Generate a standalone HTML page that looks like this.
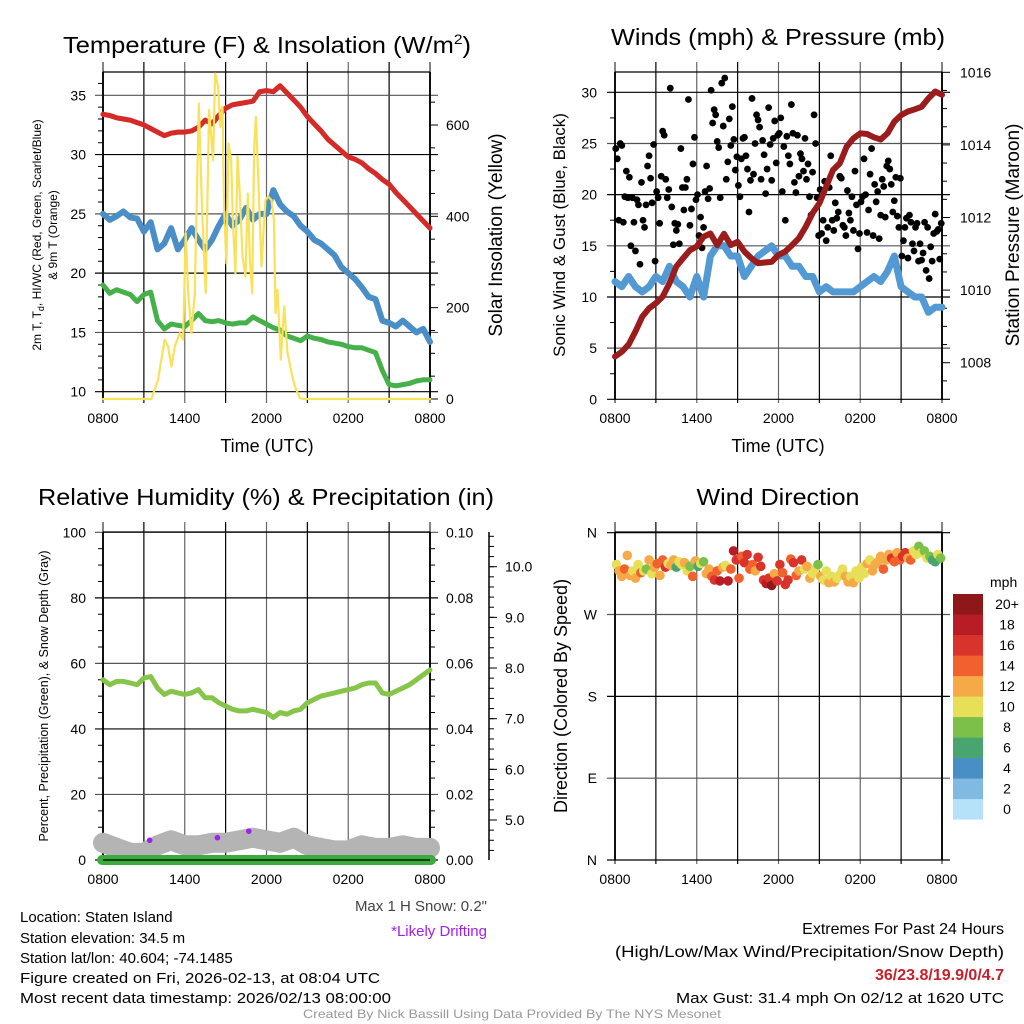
<!DOCTYPE html>
<html><head><meta charset="utf-8"><style>
html,body{margin:0;padding:0;background:#fff;}
svg{display:block;font-family:"Liberation Sans",sans-serif;}
</style></head><body>
<svg id="fig" width="1024" height="1024" viewBox="0 0 1024 1024" xmlns="http://www.w3.org/2000/svg">
<rect width="1024" height="1024" fill="#fff"/>
<text x="267" y="53" font-size="23" text-anchor="middle" textLength="408" lengthAdjust="spacingAndGlyphs">Temperature (F) &amp; Insolation (W/m<tspan dy="-9" font-size="14">2</tspan><tspan dy="9">)</tspan></text>
<text x="778" y="45" font-size="23" text-anchor="middle" textLength="334" lengthAdjust="spacingAndGlyphs">Winds (mph) &amp; Pressure (mb)</text>
<text x="266" y="505" font-size="23" text-anchor="middle" textLength="456" lengthAdjust="spacingAndGlyphs">Relative Humidity (%) &amp; Precipitation (in)</text>
<text x="778" y="505" font-size="23" text-anchor="middle" textLength="163" lengthAdjust="spacingAndGlyphs">Wind Direction</text>
<g id="layer"></g>
<text x="20" y="922" font-size="15">Location: Staten Island</text>
<text x="20" y="943" font-size="15">Station elevation: 34.5 m</text>
<text x="20" y="963" font-size="15">Station lat/lon: 40.604; -74.1485</text>
<text x="20" y="983" font-size="15" textLength="360" lengthAdjust="spacingAndGlyphs">Figure created on Fri, 2026-02-13, at 08:04 UTC</text>
<text x="20" y="1003" font-size="15" textLength="371" lengthAdjust="spacingAndGlyphs">Most recent data timestamp: 2026/02/13 08:00:00</text>
<text x="487" y="911" font-size="15" text-anchor="end" fill="#444">Max 1 H Snow: 0.2"</text>
<text x="487" y="936" font-size="15" text-anchor="end" fill="#a020f0">*Likely Drifting</text>
<text x="1004" y="934" font-size="16" text-anchor="end">Extremes For Past 24 Hours</text>
<text x="1004" y="957" font-size="16" text-anchor="end" textLength="389" lengthAdjust="spacingAndGlyphs">(High/Low/Max Wind/Precipitation/Snow Depth)</text>
<text x="1004" y="980" font-size="16" font-weight="bold" text-anchor="end" fill="#c8202a">36/23.8/19.9/0/4.7</text>
<text x="1004" y="1003" font-size="15" text-anchor="end" textLength="328" lengthAdjust="spacingAndGlyphs">Max Gust: 31.4 mph On 02/12 at 1620 UTC</text>
<text x="512" y="1018" font-size="12" text-anchor="middle" fill="#999" textLength="418" lengthAdjust="spacingAndGlyphs">Created By Nick Bassill Using Data Provided By The NYS Mesonet</text>
</svg>
<script>
// ---- data (half-hourly from 0800 UTC, 49 points) ----
const timeLabels = ["0800","1400","2000","0200","0800"];
const tempVals = [33.4,33.3,33.1,33.0,32.9,32.7,32.5,32.2,31.9,31.6,31.8,31.9,31.9,32.0,32.3,32.9,32.6,33.3,33.9,34.2,34.3,34.4,34.5,35.3,35.4,35.3,35.8,35.2,34.6,34.0,33.2,32.6,32.0,31.3,30.8,30.3,29.8,29.6,29.3,28.8,28.4,27.9,27.5,26.8,26.2,25.6,25.0,24.4,23.8];
const chillVals = [25,24.5,24.8,25.2,24.7,24.6,23.5,24.3,22.0,22.5,23.8,22.0,22.8,23.8,22.8,22.0,22.8,24.0,25.0,24.0,24.5,25.5,24.5,25.0,25.0,27.0,25.8,25.2,24.8,24.0,23.5,22.8,22.5,22.0,21.5,20.5,20.0,19.5,18.8,18.0,17.8,16.0,15.8,15.5,16.0,15.5,15.0,15.3,14.2];
const dewVals = [19.0,18.3,18.6,18.4,18.2,17.6,18.2,18.4,16.0,15.3,15.7,15.6,15.5,16.0,16.6,16.0,15.9,16.0,15.8,15.7,15.8,15.8,16.3,16.0,15.7,15.4,15.2,14.7,14.5,14.3,14.7,14.5,14.4,14.2,14.1,14.0,13.8,13.7,13.7,13.5,13.3,11.8,10.6,10.5,10.6,10.7,10.9,11.0,11.0];
const solarHours = [0,3.55,4.04,4.53,4.78,5.02,5.27,5.63,5.88,6.07,6.25,6.49,6.74,7.03,7.27,7.54,7.79,8.08,8.23,8.45,8.62,8.77,8.89,9.06,9.21,9.40,9.55,9.72,9.87,10.04,10.24,10.46,10.63,10.78,10.95,11.09,11.22,11.39,11.63,11.80,11.93,12.12,12.37,12.54,12.66,12.81,13.05,13.30,13.54,13.84,14.08,14.45,14.69,24];
const solarVals = [0,0,42,130,115,71,115,144,130,363,232,144,232,647,414,232,633,523,713,684,596,640,414,297,560,523,378,275,531,450,312,268,450,305,232,545,618,487,290,378,436,443,436,392,188,239,86,203,101,57,28,2,0,0];
const windVals = [11.5,11,12,11,10.5,11,12,11.5,13,11.5,11,10,12,10,14,15,15,14,14,12,13,14,14.5,15,14,14,13,13,12,12,10.5,11,10.5,10.5,10.5,10.5,11,11.5,12,11.5,12.5,14,11,10.5,10,10,8.5,9,9];
const gustVals = [24.5,23.5,17.5,25,24.8,17.3,19.8,22.3,19.7, 21.7,15,19.7,17.3,14.5,19.5,19,13.2,21.2, 17.5,16.8,19,22.8,23.8,21.6,19.2,24.9,13.5, 20.3,19.7,17.2,21.8,26.2,25.8,21.5,19.7,20.5, 30.4,18.8,15.1,17.2,16.5,17.1,15.2,24.5,20.7, 18.5,20.7,21.5,29.3,17,18.6,23,25.6,19.5, 20,16,17.8,14.8,16.8,20.3,22.8,19.6,20.6, 30.2,27,28.3,27.8,25.2,24.6,19.7,30.9,26.7, 31.4,21.5,23.2,27.4,24.8,28.6,25.4,22.4,23.7, 20.9,19.8,23.5,25.5,25.6,23.8,22.5,18.3,21.4, 29.4,22,25,27.8,27.3,26.6,21.5,25.3,23.9, 20.1,22.5,28.5,24.9,21.4,25.5,27.2,23.1,25.8, 26,27.5,20.3,24.7,17.5,25.7,23.8,23,28.8, 26,21.2,20.2,25.8,21.8,24,23.5,22.3,25.5, 21.5,23,19.8,18,22.2,27.8,25,19.7,16, 20.5,16.2,17.5,21.3,15.5,16.8,20.7,23.8,17.5, 16.5,19.2,17.7,18.3,21.8,21.6,17,16.8,16, 20.4,18.2,17.5,19.8,16.5,22.3,19,14.7,16.2, 19.3,19.8,23.5,20,16.3,18.5,22,24.5,16, 21,19.3,20.3,15.7,18,21.5,20.8,17.8,22.8, 23.3,22.5,21,18.3,19.4,21.7,17.9,16.8,21.6, 14,15.5,16.8,17.7,13.8,18,17.3,15.2,14.5, 16.8,17.2,13.5,15.2,13.6,14.3,17.3,12.6,16.8, 11.8,14.9,13.5,16.2,18.1,16.4,16.6,13.7,17.2];
const pressVals = [1008.17,1008.3,1008.5,1008.86,1009.27,1009.5,1009.64,1009.82,1010.19,1010.65,1010.88,1011.1,1011.2,1011.47,1011.56,1011.24,1011.55,1011.24,1011.33,1011.06,1010.88,1010.74,1010.76,1010.78,1010.97,1011.06,1011.24,1011.43,1011.75,1012.12,1012.39,1012.85,1013.31,1013.49,1013.95,1014.18,1014.32,1014.3,1014.21,1014.15,1014.32,1014.64,1014.82,1014.92,1014.98,1015.05,1015.28,1015.47,1015.38];
const rhVals = [55,53.5,54.5,54.5,54,53.5,55.5,56,52.5,50.5,51.5,51,50.5,51,52,49.5,49.5,48,47,46,45.5,45.5,46,45.5,45,43.5,45,44.5,45.5,46,48,49,50,50.5,51,51.5,52,52.5,53.5,54,54,51,50.5,51.5,52.5,53.5,55,56.5,58];
const snowVals = [4.55,4.45,4.35,4.35,4.5,4.6,4.5,4.5,4.55,4.55,4.6,4.65,4.6,4.55,4.65,4.5,4.45,4.4,4.4,4.5,4.45,4.45,4.5,4.45,4.45];
const driftHours = [3.43,8.4,10.7];
const driftVals = [4.6,4.65,4.78];
const dirVals = [325,318,312,320,335,313,318,310,325,316,318,320,330,315,322,326,313,330,322,326,324,330,322,328,325,327,318,323,312,329,323,326,328,315,320,312,308,318,307,322,324,307,320,340,330,310,334,327,336,320,325,318,333,323,308,304,310,302,315,307,325,316,303,308,331,327,313,318,330,320,323,310,315,320,325,312,308,318,305,312,306,310,314,320,312,306,312,305,318,310,322,315,326,330,318,325,328,334,320,330,336,332,328,338,330,334,338,332,330,340,336,345,338,340,332,334,330,328,336,332];
const spdVals = [11,13,12,15,13,13,11,12,10,14,10,9,12,11,13,14,12,15,16,10,12,13,7,10,11,13,10,8,15,12,7,10,8,13,12,14,17,15,18,13,10,18,14,19,16,15,14,16,16,14,15,13,17,16,17,19,17,20,12,17,16,14,17,16,14,16,14,13,17,11,12,12,11,10,9,12,11,10,12,11,13,11,10,11,12,12,10,13,10,11,11,10,12,10,13,12,13,12,14,13,12,17,15,13,14,17,16,12,14,10,11,8,10,9,11,9,6,7,10,8];
const speedBins = ["0","2","4","6","8","10","12","14","16","18","20+"];
const binColors = ["#b5e2f8","#80bae2","#4a8ec6","#48a56f","#7cc04a","#e7df58","#f6a947","#f0612e","#d9342b","#b81c24","#8d1719"];

const NS="http://www.w3.org/2000/svg";
const layer=document.getElementById('layer');
function el(tag,attrs,parent){const e=document.createElementNS(NS,tag);for(const k in attrs)e.setAttribute(k,attrs[k]);(parent||layer).appendChild(e);return e;}
function txt(s,attrs,parent){const e=el('text',attrs,parent);e.textContent=s;return e;}
function xScale(p,h){return p.x0+(p.x1-p.x0)*h/24;}
function lin(v,v0,y0,v1,y1){return y0+(v-v0)*(y1-y0)/(v1-v0);}

function frame(p,name,hLines){
  const g=el('g',{});
  
  
  for(let i=0;i<=8;i++){const x=p.x0+(p.x1-p.x0)*i/8;
    const l=el('line',{x1:x,x2:x,y1:p.yt-10,y2:p.yb+4,stroke:(i%2? '#000':'#666'),'stroke-width':(i==0||i==8)?1.6:1.2},g);
    
    }
  hLines.forEach((y,i)=>{const l=el('line',{x1:p.x0-8,x2:p.x1+8,y1:y,y2:y,stroke:(i%2?'#555':'#000'),'stroke-width':1.2},g);
    
    });
  el('line',{x1:p.x0,x2:p.x0,y1:p.yt,y2:p.yb,stroke:'#000','stroke-width':1.8},g);
  el('line',{x1:p.x1,x2:p.x1,y1:p.yt,y2:p.yb,stroke:'#000','stroke-width':1.8},g);
  el('line',{x1:p.x0,x2:p.x1,y1:p.yt,y2:p.yt,stroke:'#000','stroke-width':1.2},g);
  timeLabels.forEach((s,i)=>{const t=txt(s,{x:p.x0+(p.x1-p.x0)*i/4,y:p.yb+24,'font-size':14,'text-anchor':'middle'});
    
    });
}
function poly(pts,attrs,name){const d=pts.map((q,i)=>(i?'L':'M')+q[0].toFixed(1)+' '+q[1].toFixed(1)).join('');
  const e=el('path',Object.assign({d:d,fill:'none','stroke-linejoin':'round','stroke-linecap':'round'},attrs));
  
  return e;}
function halfHourPts(p,vals,yf){return vals.map((v,i)=>[xScale(p,i*0.5),yf(v)]);}

// ---------- Panel 1: temperature ----------
const P1={x0:103,x1:430,yt:72,yb:399};
const yT=v=>lin(v,10,391.7,35,95.3);
const yS=v=>lin(v,0,399,600,125);
frame(P1,'temperature',[10,15,20,25,30,35].map(yT));
[10,15,20,25,30,35].forEach(v=>{const t=txt(String(v),{x:86,y:yT(v)+5,'font-size':14,'text-anchor':'end'});
  
  });
[0,200,400,600].forEach(v=>{const t=txt(String(v),{x:446,y:yS(v)+5,'font-size':14});
  
  
  el('line',{x1:430,x2:438,y1:yS(v),y2:yS(v),stroke:'#000'});});
for(let v=50;v<700;v+=50){if(v%200)el('line',{x1:430,x2:435,y1:yS(v),y2:yS(v),stroke:'#000'});}
for(let v=11;v<37;v++){if(v%5)el('line',{x1:98,x2:103,y1:yT(v),y2:yT(v),stroke:'#000'});}
poly(halfHourPts(P1,chillVals,yT),{stroke:'#4a8ec8','stroke-width':6},'windchill-line');
poly(halfHourPts(P1,dewVals,yT),{stroke:'#46b04a','stroke-width':5},'dewpoint-line');
poly(halfHourPts(P1,tempVals,yT),{stroke:'#f39b3a','stroke-width':5},'temp-9m-line');
poly(halfHourPts(P1,tempVals,yT),{stroke:'#d42a2a','stroke-width':5},'temperature-line');
poly(solarHours.map((h,i)=>[xScale(P1,h),yS(solarVals[i])]),{stroke:'#f9e15a','stroke-width':2.2},'solar-line');
{let t=txt('Time (UTC)',{x:267,y:452,'font-size':18,'text-anchor':'middle'});}
{let t=txt('',{transform:'translate(41,235) rotate(-90)','font-size':12,'text-anchor':'middle'});t.innerHTML='2m T, T<tspan dy="3" font-size="9">d</tspan><tspan dy="-3">, HI/WC (Red, Green, Scarlet/Blue)</tspan>';}
{let t=txt('& 9m T (Orange)',{transform:'translate(57,235) rotate(-90)','font-size':12,'text-anchor':'middle'});}
{let t=txt('Solar Insolation (Yellow)',{transform:'translate(502,235) rotate(-90)','font-size':19,'text-anchor':'middle'});}

// ---------- Panel 2: winds ----------
const P2={x0:615,x1:942,yt:72,yb:399};
const yW=v=>lin(v,0,399.3,30,92.3);
const yP=v=>lin(v,1008,362.7,1016,72.3);
frame(P2,'winds',[0,5,10,15,20,25,30].map(yW));
[0,5,10,15,20,25,30].forEach(v=>{const t=txt(String(v),{x:597,y:yW(v)+5,'font-size':14,'text-anchor':'end'});
  
  });
[1008,1010,1012,1014,1016].forEach(v=>{const t=txt(String(v),{x:960,y:yP(v)+5,'font-size':14});
  
  
  el('line',{x1:942,x2:950,y1:yP(v),y2:yP(v),stroke:'#000'});});
for(let v=1007.5;v<1016;v+=0.5){if(v%2)el('line',{x1:942,x2:947,y1:yP(v),y2:yP(v),stroke:'#000'});}
for(let v=2.5;v<32;v+=2.5){if(v%5)el('line',{x1:610,x2:615,y1:yW(v),y2:yW(v),stroke:'#000'});}
poly(halfHourPts(P2,windVals,yW),{stroke:'#5399d3','stroke-width':7},'sustained-wind-line');
gustVals.forEach((v,i)=>{const c=el('circle',{cx:xScale(P2,(i+0.5)/9),cy:yW(v),r:3.4,fill:'#000'});
  
  });
poly(halfHourPts(P2,pressVals,yP),{stroke:'#9b1c1c','stroke-width':6},'pressure-line');
{let t=txt('Time (UTC)',{x:778,y:452,'font-size':18,'text-anchor':'middle'});}
{let t=txt('Sonic Wind & Gust (Blue, Black)',{transform:'translate(565,235) rotate(-90)','font-size':17,'text-anchor':'middle'});}
{let t=txt('Station Pressure (Maroon)',{transform:'translate(1019,235) rotate(-90)','font-size':19,'text-anchor':'middle'});}

// ---------- Panel 3: humidity ----------
const P3={x0:103,x1:430,yt:532,yb:860};
const yR=v=>lin(v,0,860,100,532.3);
const ySn=v=>lin(v,5,820,10,566.7);
frame(P3,'humidity',[0,20,40,60,80,100].map(yR));
[0,20,40,60,80,100].forEach(v=>{const t=txt(String(v),{x:86,y:yR(v)+5,'font-size':14,'text-anchor':'end'});
  
  
  const t2=txt((v/1000).toFixed(2),{x:446,y:yR(v)+5,'font-size':14});
  
  });
for(let v=5;v<100;v+=5){if(v%20){el('line',{x1:98,x2:103,y1:yR(v),y2:yR(v),stroke:'#000'});el('line',{x1:430,x2:435,y1:yR(v),y2:yR(v),stroke:'#000'});}}
el('line',{x1:489,x2:489,y1:532,y2:860,stroke:'#000','stroke-width':1.5});
[5,6,7,8,9,10].forEach(v=>{const t=txt(v.toFixed(1),{x:505,y:ySn(v)+5,'font-size':14});
  
  
  el('line',{x1:489,x2:497,y1:ySn(v),y2:ySn(v),stroke:'#000'});});
for(let v=4.4;v<10.6;v+=0.2){el('line',{x1:489,x2:494,y1:ySn(v),y2:ySn(v),stroke:'#000'});}
poly(snowVals.map((v,i)=>[xScale(P3,i),ySn(v)]),{stroke:'#b4b4b4','stroke-width':20},'snow-depth-line');
driftHours.forEach((h,i)=>{const c=el('circle',{cx:xScale(P3,h),cy:ySn(driftVals[i]),r:2.8,fill:'#a020f0'});
  
  });
{const r=el('rect',{x:97,y:855,width:339,height:10,rx:5,fill:'#3daa3d'});}
el('line',{x1:103,x2:430,y1:860,y2:860,stroke:'#000','stroke-width':1.2});
poly(halfHourPts(P3,rhVals,yR),{stroke:'#86c54a','stroke-width':5},'relative-humidity-line');
{let t=txt('Percent, Precipitation (Green), & Snow Depth (Gray)',{transform:'translate(48,696) rotate(-90)','font-size':12.5,'text-anchor':'middle'});}

// ---------- Panel 4: wind direction ----------
const P4={x0:615,x1:942,yt:532,yb:860};
const yD=v=>lin(v,0,860,360,532.7);
frame(P4,'direction',[0,90,180,270,360].map(yD));
[["N",360],["W",270],["S",180],["E",90],["N",0]].forEach(a=>{const t=txt(a[0],{x:597,y:yD(a[1])+5,'font-size':14,'text-anchor':'end'});
  
  });
dirVals.forEach((d,i)=>{const b=Math.min(10,Math.floor(spdVals[i]/2));
  const c=el('circle',{cx:xScale(P4,(i+0.5)/5),cy:yD(d),r:4.8,fill:binColors[b]});
  
  });
{let t=txt('Direction (Colored By Speed)',{transform:'translate(567,696) rotate(-90)','font-size':18,'text-anchor':'middle'});}
{let t=txt('mph',{x:990,y:587,'font-size':14});}
speedBins.forEach((s,i)=>{const k=10-i; const y=594+k*20.5;
  const r=el('rect',{x:953,y:y,width:30,height:20.6,fill:binColors[i]});
  
  
  const t=txt(s,{x:1007,y:y+15,'font-size':14,'text-anchor':'middle'});
  
  });
</script>
</body></html>
